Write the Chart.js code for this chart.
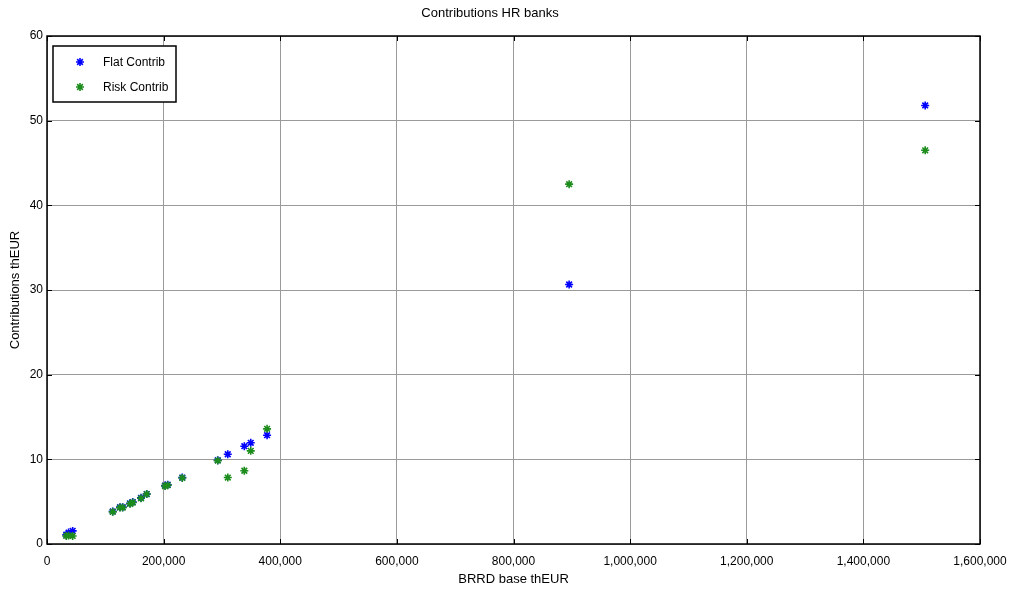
<!DOCTYPE html>
<html>
<head>
<meta charset="UTF-8">
<title>Contributions HR banks</title>
<script src="https://cdn.jsdelivr.net/npm/chart.js@4.4.0/dist/chart.umd.min.js"></script>
<style>
*{margin:0;padding:0;}
body{background:#fff;}
</style>
</head>
<body>
<canvas id="c" width="1011" height="596"></canvas>
<script>
// one entry per bank
var bankBase    = [33000, 37000, 44000, 112700, 125200, 129800, 142400, 147000, 161200, 171000, 202400, 207000, 232000, 292800, 310000, 338400, 349400, 377400, 895400, 1506000];
var flatContrib = [1.1, 1.35, 1.55, 3.85, 4.35, 4.35, 4.8, 4.95, 5.45, 5.9, 6.9, 7.0, 7.85, 9.9, 10.6, 11.55, 11.95, 12.85, 30.65, 51.8];
var riskContrib = [0.95, 1.0, 0.95, 3.8, 4.3, 4.3, 4.75, 4.9, 5.4, 5.9, 6.85, 6.95, 7.8, 9.85, 7.85, 8.65, 11.0, 13.6, 42.5, 46.5];
var xTicks = [0, 200000, 400000, 600000, 800000, 1000000, 1200000, 1400000, 1600000];
var yTicks = [0, 10, 20, 30, 40, 50, 60];
var seriesNames = ["Flat Contrib", "Risk Contrib"];
var seriesColors = ["#0000ff", "#1c8c1c"];

var FONT = "'Liberation Sans', Arial, sans-serif";
var MARK = {pointStyle: "star", radius: 4, borderWidth: 1.6};

function toPoints(ys){
	return bankBase.map(function(x, i){ return {x: x, y: ys[i]}; });
}

function fmt(v){
	return v.toLocaleString("en-US");
}

// box, inner tick marks and legend like a matlab axes
var boxPlugin = {
	id: "box",
	afterDraw: function(chart){
		var ctx = chart.ctx, a = chart.chartArea;
		var xs = chart.scales.x, ys = chart.scales.y;
		ctx.save();
		ctx.strokeStyle = "#000";
		ctx.lineWidth = 1;
		ctx.beginPath();
		xTicks.forEach(function(t){
			var px = Math.round(xs.getPixelForValue(t)) + 0.5;
			ctx.moveTo(px, a.bottom); ctx.lineTo(px, a.bottom - 5);
			ctx.moveTo(px, a.top); ctx.lineTo(px, a.top + 5);
		});
		yTicks.forEach(function(t){
			var py = Math.round(ys.getPixelForValue(t)) + 0.5;
			ctx.moveTo(a.left, py); ctx.lineTo(a.left + 5, py);
			ctx.moveTo(a.right, py); ctx.lineTo(a.right - 5, py);
		});
		ctx.stroke();
		ctx.lineWidth = 1.5;
		ctx.strokeRect(a.left, a.top, a.right - a.left, a.bottom - a.top);

		// legend
		var lx = a.left + 6, ly = a.top + 10, lw = 123, lh = 56;
		ctx.fillStyle = "#fff";
		ctx.fillRect(lx, ly, lw, lh);
		ctx.lineWidth = 1.5;
		ctx.strokeRect(lx, ly, lw, lh);
		ctx.font = "12px " + FONT;
		ctx.textBaseline = "middle";
		seriesNames.forEach(function(name, i){
			var cy = ly + 16 + i * 25;
			ctx.fillStyle = seriesColors[i];
			ctx.strokeStyle = seriesColors[i];
			ctx.lineWidth = MARK.borderWidth;
			Chart.helpers.drawPoint(ctx, {pointStyle: MARK.pointStyle, radius: MARK.radius, rotation: 0, borderWidth: MARK.borderWidth}, lx + 27, cy);
			ctx.fillStyle = "#000";
			ctx.fillText(name, lx + 50, cy + 1);
		});
		ctx.restore();
	}
};

function series(i, ys, order){
	return {
		label: seriesNames[i],
		data: toPoints(ys),
		order: order,
		pointStyle: MARK.pointStyle,
		radius: MARK.radius,
		borderWidth: MARK.borderWidth,
		borderColor: seriesColors[i],
		backgroundColor: seriesColors[i]
	};
}

new Chart(document.getElementById("c"), {
	type: "scatter",
	data: {
		datasets: [series(0, flatContrib, 2), series(1, riskContrib, 1)]
	},
	options: {
		responsive: false,
		animation: false,
		layout: {padding: {left: 0, top: 0, right: 31, bottom: 0}},
		plugins: {
			legend: {display: false},
			tooltip: {enabled: false},
			title: {
				display: true,
				text: "Contributions HR banks",
				color: "#000",
				font: {family: FONT, size: 13, weight: "normal"},
				padding: {top: 6, bottom: 14.4}
			}
		},
		scales: {
			x: {
				type: "linear",
				min: 0,
				max: 1600000,
				afterBuildTicks: function(s){ s.ticks = xTicks.map(function(v){ return {value: v}; }); },
				afterFit: function(s){ s.height = 52; s.paddingLeft = 0; s.paddingRight = 0; },
				border: {display: false},
				grid: {color: "#9a9a9a", lineWidth: 1, drawTicks: false},
				ticks: {
					color: "#000",
					padding: 10,
					maxRotation: 0,
					font: {family: FONT, size: 12},
					callback: function(v){ return fmt(v); }
				},
				title: {
					display: true,
					text: "BRRD base thEUR",
					color: "#000",
					font: {family: FONT, size: 13},
					padding: {top: 0, bottom: 9}
				}
			},
			y: {
				min: 0,
				max: 60,
				afterBuildTicks: function(s){ s.ticks = yTicks.map(function(v){ return {value: v}; }); },
				afterFit: function(s){ s.width = 47; s.paddingTop = 0; s.paddingBottom = 0; },
				border: {display: false},
				grid: {color: "#9a9a9a", lineWidth: 1, drawTicks: false},
				ticks: {
					color: "#000",
					padding: 4,
					font: {family: FONT, size: 12}
				},
				title: {
					display: true,
					text: "Contributions thEUR",
					color: "#000",
					font: {family: FONT, size: 13},
					padding: {top: 8, bottom: 0}
				}
			}
		}
	},
	plugins: [boxPlugin]
});
</script>
</body>
</html>
